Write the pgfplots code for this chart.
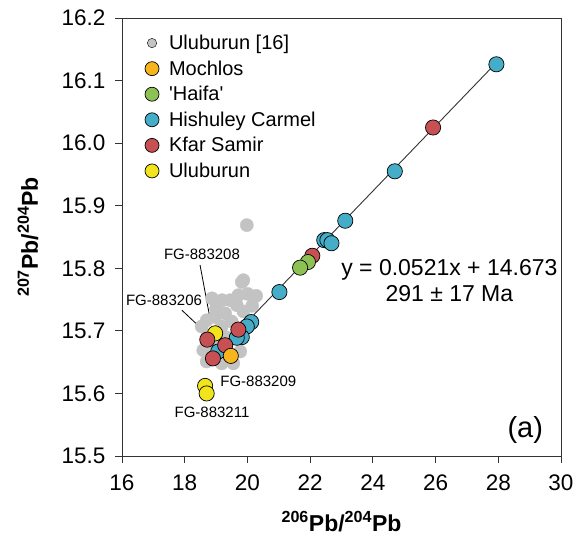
\documentclass[border=0pt]{standalone}
\usepackage{pgfplots}
\pgfplotsset{compat=1.18}
\usepackage{fontspec}
\setmainfont{Liberation Sans}
% same face without TeX ligature mapping, so ' stays a straight quote
\newfontfamily\plainsans{Liberation Sans}

\definecolor{cgray}{HTML}{C3C3C3}
\definecolor{corange}{HTML}{F7B41B}
\definecolor{cgreen}{HTML}{8DC153}
\definecolor{cblue}{HTML}{45ADC8}
\definecolor{cred}{HTML}{C75052}
\definecolor{cyellow}{HTML}{F2E41C}
\definecolor{caxis}{HTML}{333333}

\newcommand{\legtext}[1]{\hspace*{8bp}#1}

\begin{document}
\begin{tikzpicture}
\begin{axis}[
  width=439bp, height=438bp, scale only axis,
  xmin=16, xmax=30, ymin=15.5, ymax=16.2,
  xtick={16,18,...,30}, ytick={15.5,15.6,...,16.25},
  xtick pos=lower, ytick pos=left,
  tick align=outside, major tick length=7bp,
  axis line style={caxis, line width=0.9bp},
  tick style={caxis, line width=0.9bp},
  /pgf/number format/assume math mode=true,
  yticklabel style={/pgf/number format/fixed, /pgf/number format/precision=1,
    /pgf/number format/fixed zerofill, font=\fontsize{22.5bp}{26bp}\selectfont,
    xshift=-6bp},
  xticklabel style={font=\fontsize{22.5bp}{26bp}\selectfont, yshift=-8bp},
  xlabel={\textbf{\textsuperscript{206}Pb/\textsuperscript{204}Pb}},
  ylabel={\textbf{\textsuperscript{207}Pb/\textsuperscript{204}Pb}},
  xlabel style={at={(axis description cs:0.5,-0.1507)}, anchor=center,
    font=\fontsize{23bp}{27bp}\selectfont},
  ylabel style={at={(axis description cs:-0.2143,0.5)}, anchor=center,
    font=\fontsize{23bp}{27bp}\selectfont},
  legend style={at={(axis description cs:0.052,0.966)}, anchor=north west,
    draw=none, fill=none, font=\fontsize{20bp}{23bp}\selectfont,
    row sep=5.6bp, inner sep=0pt},
  legend cell align=left,
]
% published Uluburun data
\addplot[only marks, mark=*, mark size=6.6bp, mark options={draw=cgray, line width=0.3bp, fill=cgray}, forget plot]
  coordinates {
  (19.98,15.869) (19.87,15.781) (19.82,15.778) (19.71,15.757) (20.01,15.759)
  (19.66,15.741) (19.87,15.731) (19.29,15.728) (19.50,15.715) (18.70,15.717)
  (18.54,15.707) (18.97,15.722) (19.18,15.707) (18.59,15.669) (18.70,15.651)
  (19.18,15.648) (19.55,15.648) (19.77,15.667) (18.87,15.752) (19.19,15.749)
  (19.00,15.736) (20.28,15.756) (20.15,15.740) (19.45,15.749) (18.74,15.692)
  (19.32,15.690) (19.05,15.680) (18.85,15.672)
  };
% regression line
\addplot[caxis, line width=0.9bp, forget plot] coordinates {(18.8,15.6525) (27.94,16.1287)};
% Uluburun
\addplot[only marks, mark=*, mark size=7.6bp, mark options={draw=black, line width=0.7bp, fill=cyellow}, forget plot]
  coordinates {(18.97,15.696) (18.65,15.612) (18.70,15.600)};
% Hishuley Carmel
\addplot[only marks, mark=*, mark size=7.6bp, mark options={draw=black, line width=0.7bp, fill=cblue}, forget plot]
  coordinates {(27.94,16.126) (24.70,15.955) (23.12,15.876) (22.45,15.845) (22.55,15.845)
  (22.68,15.840) (21.02,15.762) (20.12,15.714) (19.98,15.707) (19.82,15.690)
  (19.66,15.689) (19.07,15.667)};
% Kfar Samir
\addplot[only marks, mark=*, mark size=7.6bp, mark options={draw=black, line width=0.7bp, fill=cred}, forget plot]
  coordinates {(25.92,16.025) (22.07,15.820) (19.71,15.702) (18.72,15.686) (19.29,15.677) (18.90,15.656)};
% 'Haifa'
\addplot[only marks, mark=*, mark size=7.6bp, mark options={draw=black, line width=0.7bp, fill=cgreen}, forget plot]
  coordinates {(21.93,15.810) (21.68,15.801)};
% Mochlos
\addplot[only marks, mark=*, mark size=7.6bp, mark options={draw=black, line width=0.7bp, fill=corange}, forget plot]
  coordinates {(19.47,15.660)};

% legend entries
\addlegendimage{only marks, mark=*, mark size=4.7bp, mark options={draw=none, fill=cgray}}
\addlegendentry{\legtext{Uluburun [16]}}
\addlegendimage{only marks, mark=*, mark size=7bp, mark options={draw=black, line width=0.7bp, fill=corange}}
\addlegendentry{\legtext{Mochlos}}
\addlegendimage{only marks, mark=*, mark size=7bp, mark options={draw=black, line width=0.7bp, fill=cgreen}}
\addlegendentry{\legtext{{\plainsans 'Haifa'}}}
\addlegendimage{only marks, mark=*, mark size=7bp, mark options={draw=black, line width=0.7bp, fill=cblue}}
\addlegendentry{\legtext{Hishuley Carmel}}
\addlegendimage{only marks, mark=*, mark size=7bp, mark options={draw=black, line width=0.7bp, fill=cred}}
\addlegendentry{\legtext{Kfar Samir}}
\addlegendimage{only marks, mark=*, mark size=7bp, mark options={draw=black, line width=0.7bp, fill=cyellow}}
\addlegendentry{\legtext{Uluburun}}

% sample labels
\draw[black, line width=0.8bp] (axis cs:18.49,15.805) -- (axis cs:18.84,15.711);
\draw[black, line width=0.8bp] (axis cs:17.91,15.733) -- (axis cs:18.59,15.701);
\node[font=\fontsize{15bp}{17bp}\selectfont] at (axis cs:18.55,15.823) {FG-883208};
\node[font=\fontsize{15bp}{17bp}\selectfont] at (axis cs:17.34,15.748) {FG-883206};
\node[font=\fontsize{15bp}{17bp}\selectfont, anchor=west, inner sep=0pt] at (axis cs:19.13,15.620) {FG-883209};
\node[font=\fontsize{15bp}{17bp}\selectfont] at (axis cs:18.87,15.569) {FG-883211};

% regression text
\node[font=\fontsize{23bp}{27bp}\selectfont] at (axis cs:26.44,15.797) {y = 0.0521x + 14.673};
\node[font=\fontsize{23bp}{27bp}\selectfont] at (axis cs:26.44,15.760) {291 ± 17 Ma};
\node[font=\fontsize{29bp}{33bp}\selectfont] at (axis cs:28.86,15.5415) {(a)};
\end{axis}
\pgfresetboundingbox
\path[use as bounding box] (-122bp,-98bp) rectangle (454bp,456bp);
\end{tikzpicture}
\end{document}
